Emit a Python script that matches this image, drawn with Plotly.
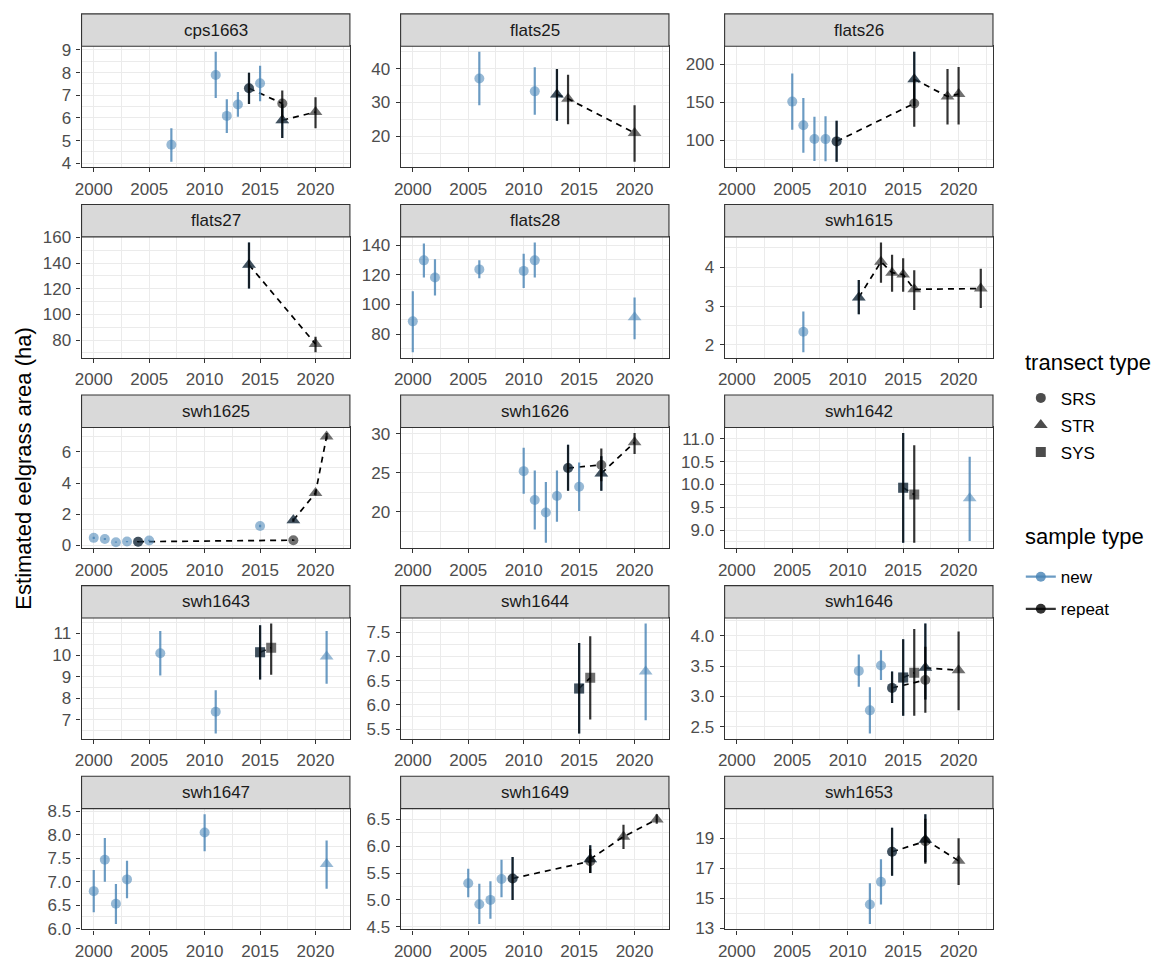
import plotly.graph_objects as go

# Facet order (wrapped into 3 columns)
panels = ["cps1663", "flats25", "flats26", "flats27", "flats28", "swh1615",
          "swh1625", "swh1626", "swh1642", "swh1643", "swh1644", "swh1646",
          "swh1647", "swh1649", "swh1653"]

# One row per survey estimate; the first survey of a repeat series is also a new sample
site = (["cps1663"] * 11 + ["flats25"] * 6 + ["flats26"] * 11 + ["flats27"] * 3 +
        ["flats28"] * 7 + ["swh1615"] * 8 + ["swh1625"] * 13 + ["swh1626"] * 11 +
        ["swh1642"] * 4 + ["swh1643"] * 6 + ["swh1644"] * 4 + ["swh1646"] * 12 +
        ["swh1647"] * 6 + ["swh1649"] * 11 + ["swh1653"] * 8)

year = [2007, 2011, 2012, 2013, 2014, 2015, 2017, 2014, 2017, 2017, 2020,
        2006, 2011, 2013, 2013, 2014, 2020,
        2005, 2006, 2007, 2008, 2009, 2016, 2009, 2016, 2016, 2019, 2020,
        2014, 2014, 2020,
        2000, 2001, 2002, 2006, 2010, 2011, 2020,
        2006, 2011, 2011, 2013, 2014, 2015, 2016, 2022,
        2000, 2001, 2002, 2003, 2004, 2005, 2015, 2018, 2004, 2018, 2018, 2020, 2021,
        2010, 2011, 2012, 2013, 2014, 2015, 2017, 2014, 2017, 2017, 2020,
        2015, 2021, 2015, 2016,
        2006, 2011, 2015, 2021, 2015, 2016,
        2015, 2021, 2015, 2016,
        2011, 2012, 2013, 2014, 2015, 2017, 2014, 2017, 2015, 2016, 2017, 2020,
        2000, 2001, 2002, 2003, 2010, 2021,
        2005, 2006, 2007, 2008, 2009, 2016, 2009, 2016, 2016, 2019, 2022,
        2012, 2013, 2014, 2017, 2014, 2017, 2017, 2020]

estimate = [4.82, 7.90, 6.09, 6.59, 7.31, 7.53, 5.90, 7.31, 6.64, 5.90, 6.26,
            37.1, 33.3, 32.4, 32.4, 31.1, 21.0,
            150.9, 120.0, 102.1, 101.9, 98.9, 180.0, 98.9, 148.5, 180.0, 157.7, 160.7,
            138.7, 138.7, 76.9,
            88.6, 129.7, 118.1, 123.6, 122.6, 129.7, 91.4,
            2.34, 3.22, 3.22, 4.14, 3.86, 3.81, 3.43, 3.45,
            0.47, 0.40, 0.19, 0.23, 0.22, 0.30, 1.23, 1.61, 0.22, 0.32, 1.61, 3.36, 7.00,
            25.2, 21.5, 19.9, 22.0, 25.6, 23.2, 24.9, 25.6, 26.0, 24.9, 28.9,
            9.93, 9.70, 9.93, 9.78,
            10.08, 7.37, 10.13, 9.93, 10.13, 10.34,
            6.34, 6.69, 6.34, 6.56,
            3.42, 2.77, 3.51, 3.14, 3.31, 3.47, 3.14, 3.27, 3.31, 3.39, 3.47, 3.43,
            6.80, 7.47, 6.53, 7.05, 8.05, 7.38,
            5.31, 4.92, 5.00, 5.39, 5.40, 5.76, 5.40, 5.72, 5.76, 6.18, 6.50,
            14.6, 16.1, 18.1, 18.9, 18.1, 18.8, 18.9, 17.5]

lower = [4.07, 6.88, 5.34, 6.05, 6.62, 6.74, 5.11, 6.62, 6.02, 5.11, 5.54,
         29.2, 26.4, 24.6, 24.6, 23.6, 12.5,
         114.0, 84.0, 73.4, 73.0, 72.4, 145.0, 72.4, 118.0, 145.0, 121.0, 121.0,
         120.3, 120.3, 70.5,
         67.8, 118.1, 106.1, 117.6, 111.1, 118.1, 76.5,
         1.81, 2.79, 2.79, 3.60, 3.37, 3.37, 2.90, 2.95,
         0.40, 0.34, 0.15, 0.19, 0.18, 0.25, 1.15, 1.50, 0.18, 0.27, 1.50, 3.20, 6.80,
         22.3, 17.7, 16.0, 18.7, 22.7, 20.1, 22.7, 22.7, 23.9, 22.7, 27.4,
         8.72, 8.76, 8.72, 8.72,
         9.05, 6.36, 8.86, 8.66, 8.86, 9.08,
         5.41, 5.68, 5.41, 5.70,
         3.16, 2.39, 3.27, 2.89, 2.68, 2.95, 2.89, 2.73, 2.68, 2.68, 2.95, 2.77,
         6.35, 7.00, 6.10, 6.65, 7.65, 6.85,
         5.05, 4.55, 4.65, 5.05, 5.00, 5.50, 5.00, 5.50, 5.50, 5.95, 6.42,
         13.3, 14.6, 16.5, 17.4, 16.5, 17.3, 17.4, 15.9]

upper = [5.55, 8.92, 6.82, 7.14, 7.99, 8.30, 6.60, 7.99, 7.21, 6.60, 6.91,
         45.0, 40.4, 39.9, 39.9, 38.2, 29.2,
         187.6, 155.6, 131.2, 131.6, 126.0, 216.0, 126.0, 180.0, 216.0, 193.6, 196.0,
         156.2, 156.2, 82.6,
         108.9, 141.1, 130.4, 129.7, 134.1, 141.8, 104.6,
         2.86, 3.67, 3.67, 4.64, 4.32, 4.23, 3.92, 3.96,
         0.54, 0.46, 0.23, 0.27, 0.26, 0.35, 1.31, 1.72, 0.26, 0.37, 1.72, 3.52, 7.22,
         28.2, 25.3, 23.8, 25.3, 28.6, 26.3, 27.1, 28.6, 28.1, 27.1, 30.1,
         11.13, 10.61, 11.13, 10.86,
         11.12, 8.36, 11.38, 11.12, 11.38, 11.46,
         7.28, 7.68, 7.28, 7.42,
         3.69, 3.15, 3.76, 3.41, 3.94, 4.20, 3.41, 3.82, 3.94, 4.11, 4.20, 4.07,
         7.25, 7.93, 6.95, 7.45, 8.44, 7.88,
         5.58, 5.30, 5.35, 5.75, 5.80, 6.02, 5.80, 5.95, 6.02, 6.40, 6.60,
         16.0, 17.6, 19.7, 20.6, 19.7, 20.3, 20.6, 19.0]

transect = ["SRS", "SRS", "SRS", "SRS", "SRS", "SRS", "STR", "SRS", "SRS", "STR", "STR",
            "SRS", "SRS", "STR", "STR", "STR", "STR",
            "SRS", "SRS", "SRS", "SRS", "SRS", "STR", "SRS", "SRS", "STR", "STR", "STR",
            "STR", "STR", "STR",
            "SRS", "SRS", "SRS", "SRS", "SRS", "SRS", "STR",
            "SRS", "STR", "STR", "STR", "STR", "STR", "STR", "STR",
            "SRS", "SRS", "SRS", "SRS", "SRS", "SRS", "SRS", "STR", "SRS", "SRS", "STR", "STR", "STR",
            "SRS", "SRS", "SRS", "SRS", "SRS", "SRS", "STR", "SRS", "SRS", "STR", "STR",
            "SYS", "STR", "SYS", "SYS",
            "SRS", "SRS", "SYS", "STR", "SYS", "SYS",
            "SYS", "STR", "SYS", "SYS",
            "SRS", "SRS", "SRS", "SRS", "SYS", "STR", "SRS", "SRS", "SYS", "SYS", "STR", "STR",
            "SRS", "SRS", "SRS", "SRS", "SRS", "STR",
            "SRS", "SRS", "SRS", "SRS", "SRS", "STR", "SRS", "SRS", "STR", "STR", "STR",
            "SRS", "SRS", "SRS", "STR", "SRS", "SRS", "STR", "STR"]

sample = (["new"] * 7 + ["repeat"] * 4 +
          ["new"] * 3 + ["repeat"] * 3 +
          ["new"] * 6 + ["repeat"] * 5 +
          ["new"] * 1 + ["repeat"] * 2 +
          ["new"] * 7 +
          ["new"] * 2 + ["repeat"] * 6 +
          ["new"] * 8 + ["repeat"] * 5 +
          ["new"] * 7 + ["repeat"] * 4 +
          ["new"] * 2 + ["repeat"] * 2 +
          ["new"] * 4 + ["repeat"] * 2 +
          ["new"] * 2 + ["repeat"] * 2 +
          ["new"] * 6 + ["repeat"] * 6 +
          ["new"] * 6 +
          ["new"] * 6 + ["repeat"] * 5 +
          ["new"] * 4 + ["repeat"] * 4)

# y-axis break labels for each facet (free y scales)
y_tick_labels = {
    "cps1663": ["4", "5", "6", "7", "8", "9"],
    "flats25": ["20", "30", "40"],
    "flats26": ["100", "150", "200"],
    "flats27": ["80", "100", "120", "140", "160"],
    "flats28": ["80", "100", "120", "140"],
    "swh1615": ["2", "3", "4"],
    "swh1625": ["0", "2", "4", "6"],
    "swh1626": ["20", "25", "30"],
    "swh1642": ["9.0", "9.5", "10.0", "10.5", "11.0"],
    "swh1643": ["7", "8", "9", "10", "11"],
    "swh1644": ["5.5", "6.0", "6.5", "7.0", "7.5"],
    "swh1646": ["2.5", "3.0", "3.5", "4.0"],
    "swh1647": ["6.0", "6.5", "7.0", "7.5", "8.0", "8.5"],
    "swh1649": ["4.5", "5.0", "5.5", "6.0", "6.5"],
    "swh1653": ["13", "15", "17", "19"],
}
x_tick_labels = ["2000", "2005", "2010", "2015", "2020"]

transect_types = ["SRS", "STR", "SYS"]
sample_types = ["new", "repeat"]

n = len(site)
assert all(len(v) == n for v in (year, estimate, lower, upper, transect, sample))

# ---- styling ----
W, H = 1153, 966
COL_LEFT = [75, 396, 722]
PANEL_W = 270
ROW_TOP, ROW_STEP, STRIP_H, PANEL_H = 6, 194, 33, 123

SYMBOL = {"SRS": "circle", "STR": "triangle-up", "SYS": "square"}
SIZE = {"SRS": 10, "STR": 12, "SYS": 10}
COLOR = {"new": "rgba(70,130,180,0.8)", "repeat": "rgba(0,0,0,0.8)"}
FONT = "Liberation Sans, Arial, sans-serif"
GRID = "#ebebeb"
BORDER = "#333333"

fig = go.Figure()
shapes, annotations = [], []


def minor_between(vals, lo, hi):
    step = vals[1] - vals[0]
    cands = [vals[0] - step / 2] + [v + step / 2 for v in vals]
    return [m for m in cands if lo <= m <= hi]


x_vals = [float(t) for t in x_tick_labels]
x_lo_data, x_hi_data = min(year), max(year)
x_pad = 0.05 * (x_hi_data - x_lo_data)
x_range = [x_lo_data - x_pad, x_hi_data + x_pad]

for i, name in enumerate(panels):
    r, c = divmod(i, 3)
    suffix = "" if i == 0 else str(i + 1)
    xa, ya = "x" + suffix, "y" + suffix
    idx = [k for k in range(n) if site[k] == name]

    # dashed connector through the repeat surveys of each transect type
    for t in transect_types:
        rep = sorted((year[k], estimate[k]) for k in idx
                     if sample[k] == "repeat" and transect[k] == t)
        if len(rep) > 1:
            fig.add_trace(go.Scatter(
                x=[p[0] for p in rep], y=[p[1] for p in rep], mode="lines",
                line=dict(color="black", width=1.7, dash="6px,5px"),
                xaxis=xa, yaxis=ya, showlegend=False, hoverinfo="skip"))

    # point ranges, new samples first then repeats on top
    for s in sample_types:
        ks = [k for k in idx if sample[k] == s]
        if not ks:
            continue
        fig.add_trace(go.Scatter(
            x=[year[k] for k in ks], y=[estimate[k] for k in ks], mode="markers",
            marker=dict(color=COLOR[s], symbol=[SYMBOL[transect[k]] for k in ks],
                        size=[SIZE[transect[k]] for k in ks], line=dict(width=0)),
            error_y=dict(type="data", symmetric=False,
                         array=[upper[k] - estimate[k] for k in ks],
                         arrayminus=[estimate[k] - lower[k] for k in ks],
                         color=COLOR[s], thickness=2.2, width=0),
            xaxis=xa, yaxis=ya, showlegend=False))

    lo = min(lower[k] for k in idx)
    hi = max(upper[k] for k in idx)
    pad = 0.05 * (hi - lo)
    y_range = [lo - pad, hi + pad]
    y_vals = [float(t) for t in y_tick_labels[name]]

    left = COL_LEFT[c]
    strip_top = ROW_TOP + r * ROW_STEP
    panel_top = strip_top + STRIP_H
    x_dom = [left / W, (left + PANEL_W) / W]
    y_dom = [1 - (panel_top + PANEL_H) / H, 1 - panel_top / H]

    common = dict(showline=True, mirror=True, linecolor=BORDER, linewidth=1.1,
                  ticks="outside", ticklen=4, tickwidth=1.1, tickcolor=BORDER,
                  tickfont=dict(size=17, color="#4d4d4d", family=FONT),
                  showgrid=True, gridcolor=GRID, gridwidth=1.1, zeroline=False)
    fig.layout["xaxis" + suffix] = dict(
        common, domain=x_dom, anchor=ya, range=x_range,
        tickmode="array", tickvals=x_vals, ticktext=x_tick_labels,
        minor=dict(tickvals=minor_between(x_vals, *x_range), showgrid=True,
                   gridcolor=GRID, gridwidth=0.6, ticks=""),
        ticklabelstandoff=2)
    fig.layout["yaxis" + suffix] = dict(
        common, domain=y_dom, anchor=xa, range=y_range,
        tickmode="array", tickvals=y_vals, ticktext=y_tick_labels[name],
        minor=dict(tickvals=minor_between(y_vals, *y_range), showgrid=True,
                   gridcolor=GRID, gridwidth=0.6, ticks=""),
        ticklabelstandoff=2)

    # facet strip
    shapes.append(dict(type="rect", xref="paper", yref="paper",
                       x0=x_dom[0], x1=x_dom[1],
                       y0=1 - panel_top / H, y1=1 - strip_top / H,
                       fillcolor="#d9d9d9", line=dict(color=BORDER, width=1.1)))
    annotations.append(dict(text=name, xref="paper", yref="paper",
                            x=(x_dom[0] + x_dom[1]) / 2,
                            y=1 - (strip_top + STRIP_H / 2) / H,
                            showarrow=False, xanchor="center", yanchor="middle",
                            font=dict(size=17, color="#1a1a1a", family=FONT)))

# legend entries
for t in transect_types:
    fig.add_trace(go.Scatter(
        x=[None], y=[None], mode="markers", name=t, legend="legend", legendgroup=t,
        marker=dict(symbol=SYMBOL[t], size=SIZE[t], color="rgba(0,0,0,0.7)")))
for s in sample_types:
    fig.add_trace(go.Scatter(
        x=[None], y=[None], mode="lines+markers", name=s, legend="legend2",
        legendgroup=s, line=dict(color=COLOR[s], width=2.2),
        marker=dict(symbol="circle", size=10, color=COLOR[s])))

# legend titles and shared y-axis title
for title, ypx in (("transect type", 361), ("sample type", 538)):
    annotations.append(dict(text=title, xref="paper", yref="paper",
                            x=1022 / W, y=1 - ypx / H, showarrow=False,
                            xanchor="left", yanchor="middle",
                            font=dict(size=22, color="black", family=FONT)))
annotations.append(dict(text="Estimated eelgrass area (ha)", xref="paper", yref="paper",
                        x=17 / W, y=1 - 469 / H, textangle=-90, showarrow=False,
                        xanchor="center", yanchor="middle",
                        font=dict(size=22, color="black", family=FONT)))

fig.update_layout(
    width=W, height=H, margin=dict(l=0, r=0, t=0, b=0),
    paper_bgcolor="white", plot_bgcolor="white",
    font=dict(family=FONT, color="black"),
    shapes=shapes, annotations=annotations,
    legend=dict(font=dict(size=17), x=1020 / W, y=1 - 379 / H,
                xanchor="left", yanchor="top", bgcolor="rgba(0,0,0,0)",
                tracegroupgap=2),
    legend2=dict(font=dict(size=17), x=1020 / W, y=1 - 561 / H,
                 xanchor="left", yanchor="top", bgcolor="rgba(0,0,0,0)",
                 tracegroupgap=7),
)

fig.write_html("out.html")
